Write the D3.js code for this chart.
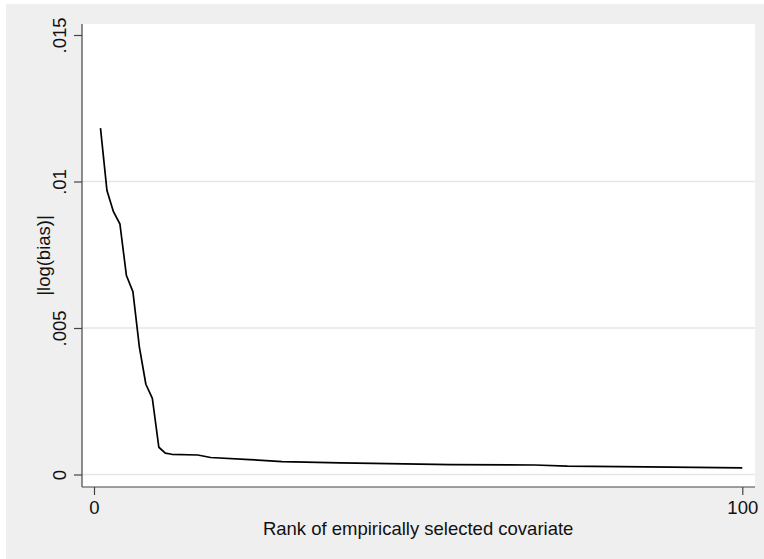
<!DOCTYPE html>
<html>
<head>
<meta charset="utf-8">
<script src="https://cdn.jsdelivr.net/npm/d3@7"></script>
<style>
  body { margin: 0; background: #fff; }
  svg { display: block; font-family: "Liberation Sans", Arial, Helvetica, sans-serif; }
</style>
</head>
<body>
<div id="chart"></div>
<script>
// Rank of covariate and |log(bias)|
const ranks = [1, 2, 3, 4, 5, 6, 7, 8, 9, 10, 11, 12, 16, 18, 24, 29, 38, 43, 55, 68, 73, 89, 100];
const bias = [0.01182, 0.00969, 0.00897, 0.00855, 0.00679, 0.00624, 0.00435, 0.00308, 0.00260,
              0.00093, 0.00073, 0.00069, 0.000665, 0.00058, 0.00051, 0.00044, 0.00040, 0.00038,
              0.00034, 0.000325, 0.000285, 0.00025, 0.000225];

const xTicks = [0, 100];
const xTickLabels = ["0", "100"];
const yTicks = [0, 0.005, 0.01, 0.015];
const yTickLabels = ["0", ".005", ".01", ".015"];
const yGrid = [0, 0.005, 0.01];

const xTitle = "Rank of empirically selected covariate";
const yTitle = "|log(bias)|";

const width = 764, height = 559;
const fontSize = "18.5px";
// plot region (white box)
const plot = { left: 82, top: 24, right: 755, bottom: 487 };

const data = ranks.map((r, i) => ({ rank: r, value: bias[i] }));

const svg = d3.select("#chart")
    .append("svg")
    .attr("width", width)
    .attr("height", height);

// fond gris du graphe
svg.append("rect")
    .attr("x", 6).attr("y", 4)
    .attr("width", width - 6).attr("height", height - 4)
    .attr("fill", "#efefef");

svg.append("rect")
    .attr("x", plot.left).attr("y", plot.top)
    .attr("width", plot.right - plot.left)
    .attr("height", plot.bottom - plot.top)
    .attr("fill", "#fff");

const x = d3.scaleLinear().domain([0, 100]).range([94, 742.3]);
const y = d3.scaleLinear().domain([0, 0.015]).range([474.5, 35]);

// grille
svg.append("g")
    .selectAll("line")
    .data(yGrid)
    .enter()
    .append("line")
    .attr("x1", plot.left)
    .attr("x2", plot.right)
    .attr("y1", d => y(d))
    .attr("y2", d => y(d))
    .attr("stroke", "#e6e6e6")
    .attr("stroke-width", 1.4);

// courbe
const line = d3.line()
    .x(d => x(d.rank))
    .y(d => y(d.value));

svg.append("path")
    .datum(data)
    .attr("d", line)
    .attr("fill", "none")
    .attr("stroke", "#000")
    .attr("stroke-width", 1.7)
    .attr("stroke-linejoin", "round");

// axe Y
const yAxis = d3.axisLeft(y)
    .tickValues(yTicks)
    .tickSize(8)
    .tickFormat((d, i) => yTickLabels[i]);

const gy = svg.append("g")
    .attr("transform", `translate(${plot.left}, 0)`)
    .call(yAxis);
gy.select(".domain").remove();
gy.selectAll(".tick line").attr("stroke", "#444").attr("stroke-width", 1.2);
gy.selectAll(".tick text")
    .attr("x", null).attr("dy", null)
    .attr("transform", "translate(-16, 0) rotate(-90)")
    .attr("text-anchor", "middle")
    .attr("font-size", fontSize)
    .attr("font-family", "Liberation Sans, Arial, sans-serif")
    .attr("fill", "#111");

// axe X
const xAxis = d3.axisBottom(x)
    .tickValues(xTicks)
    .tickSize(8)
    .tickFormat((d, i) => xTickLabels[i]);

const gx = svg.append("g")
    .attr("transform", `translate(0, ${plot.bottom})`)
    .call(xAxis);
gx.select(".domain").remove();
gx.selectAll(".tick line").attr("stroke", "#444").attr("stroke-width", 1.2);
gx.selectAll(".tick text")
    .attr("y", 27).attr("dy", null)
    .attr("font-size", fontSize)
    .attr("font-family", "Liberation Sans, Arial, sans-serif")
    .attr("fill", "#111");

// lignes d'axe sur le bord du cadre
svg.append("line")
    .attr("x1", plot.left).attr("x2", plot.left)
    .attr("y1", plot.top).attr("y2", plot.bottom)
    .attr("stroke", "#444").attr("stroke-width", 1.2);
svg.append("line")
    .attr("x1", plot.left).attr("x2", plot.right)
    .attr("y1", plot.bottom).attr("y2", plot.bottom)
    .attr("stroke", "#444").attr("stroke-width", 1.2);

// titres
svg.append("text")
    .attr("x", (x(0) + x(100)) / 2)
    .attr("y", 535)
    .attr("text-anchor", "middle")
    .attr("font-size", fontSize)
    .attr("fill", "#111")
    .text(xTitle);

svg.append("text")
    .attr("transform", `translate(50, ${(plot.top + plot.bottom) / 2}) rotate(-90)`)
    .attr("text-anchor", "middle")
    .attr("font-size", fontSize)
    .attr("fill", "#111")
    .text(yTitle);
</script>
</body>
</html>
